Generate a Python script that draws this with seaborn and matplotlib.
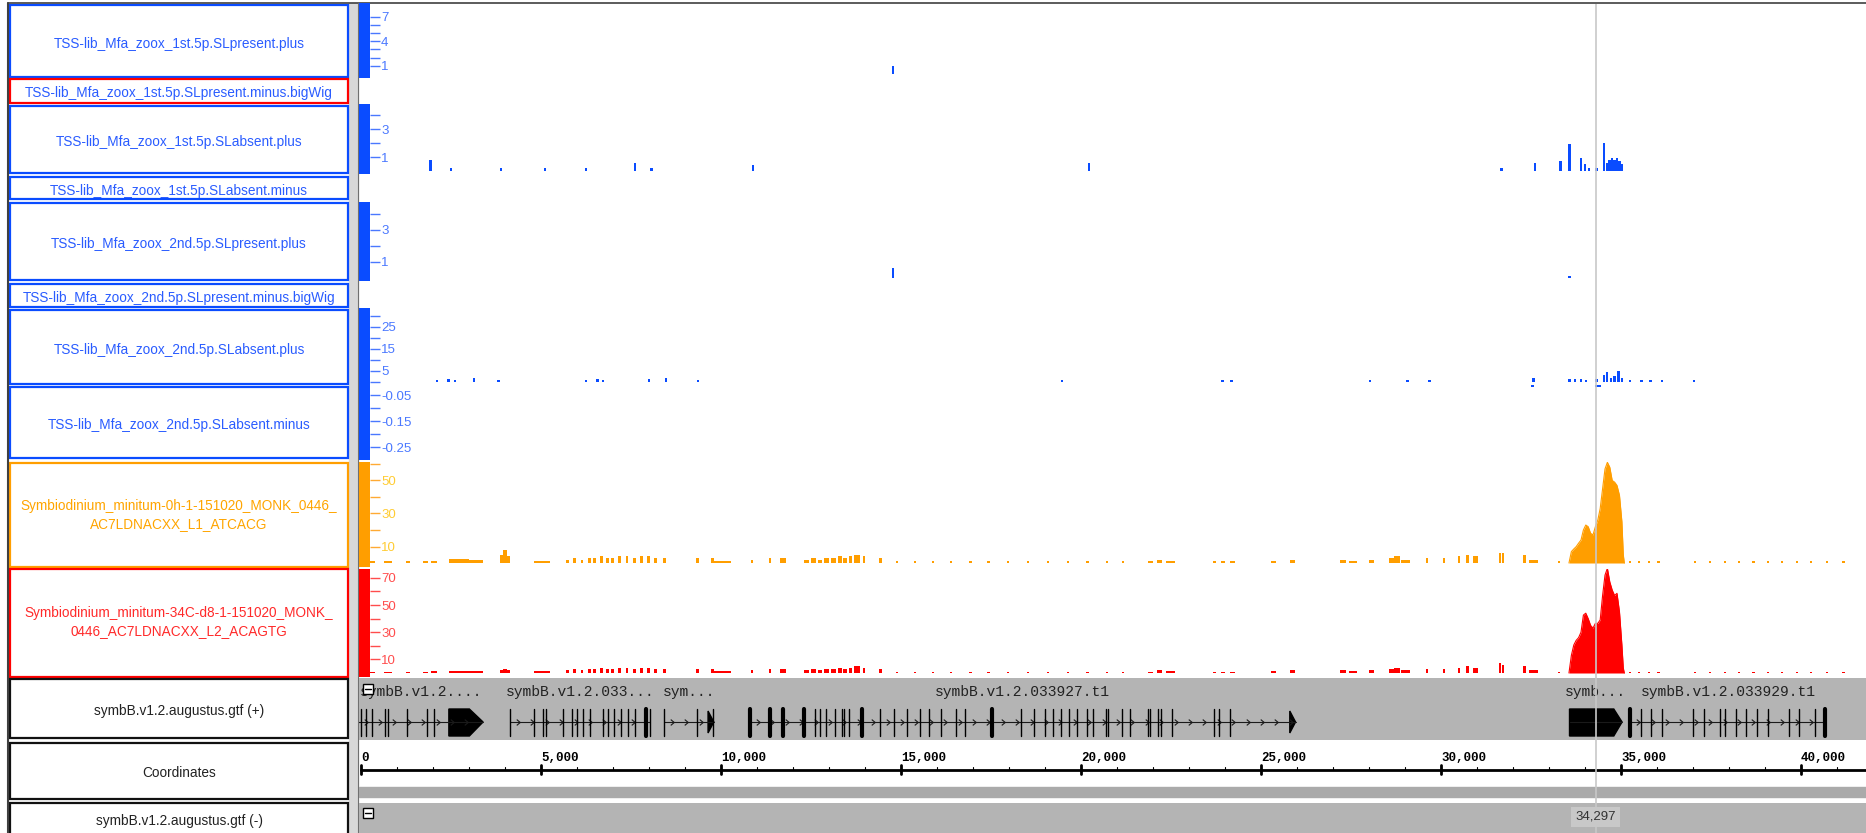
import numpy as np
import matplotlib
matplotlib.use("Agg")
import matplotlib.pyplot as plt
import seaborn as sns
from matplotlib.patches import Rectangle, Polygon
from matplotlib.path import Path

sns.set_style("white")
plt.rcParams['font.family'] = ['Liberation Sans', 'DejaVu Sans']

# ---------------- data ----------------
VIEW = (-56, 41806)          # visible genomic window (bp)
CURSOR = 34297

track_names = [
    "TSS-lib_Mfa_zoox_1st.5p.SLpresent.plus",
    "TSS-lib_Mfa_zoox_1st.5p.SLpresent.minus.bigWig",
    "TSS-lib_Mfa_zoox_1st.5p.SLabsent.plus",
    "TSS-lib_Mfa_zoox_1st.5p.SLabsent.minus",
    "TSS-lib_Mfa_zoox_2nd.5p.SLpresent.plus",
    "TSS-lib_Mfa_zoox_2nd.5p.SLpresent.minus.bigWig",
    "TSS-lib_Mfa_zoox_2nd.5p.SLabsent.plus",
    "TSS-lib_Mfa_zoox_2nd.5p.SLabsent.minus",
    "Symbiodinium_minitum-0h-1-151020_MONK_0446_\nAC7LDNACXX_L1_ATCACG",
    "Symbiodinium_minitum-34C-d8-1-151020_MONK_\n0446_AC7LDNACXX_L2_ACAGTG",
    "symbB.v1.2.augustus.gtf (+)",
    "Coordinates",
    "symbB.v1.2.augustus.gtf (-)",
]

# TSS tracks (position bp, value)
t1_pos = [14780]
t1_val = [1.0]
t3_pos = [1920, 2500, 3890, 5110, 6250, 7610, 8080, 10890, 20220, 31670, 32610, 33330,
          33580, 33890, 34000, 34110, 34330, 34530, 34610, 34680, 34750, 34820, 34890, 34960, 35030]
t3_val = [0.8, 0.2, 0.2, 0.2, 0.2, 0.6, 0.25, 0.45, 0.6, 0.2, 0.55, 0.75,
          1.9, 0.9, 0.5, 0.25, 0.2, 2.0, 0.6, 0.8, 0.9, 0.8, 0.9, 0.7, 0.5]
t5_pos = [14780, 33580]
t5_val = [0.6, 0.15]
t7_pos = [2110, 2440, 2610, 3140, 3830, 6250, 6580, 6720, 8000, 8470, 9360, 19470, 23920, 24190,
          28030, 29060, 29670, 32580, 33560, 33720, 33890, 34030, 34330, 34530, 34610, 34720,
          34830, 34920, 35030, 35250, 35560, 35810, 36140, 37030]
t7_val = [1, 1.5, 1, 2, 1, 1, 1.5, 1, 1.5, 2, 1, 1, 1, 1,
          1, 1, 1, 2, 1.5, 1.5, 1.5, 1, 1.5, 3, 4.5, 2,
          2.5, 5, 2, 1, 1, 1, 1, 1]
t8_pos = [32540, 34330, 34400]
t8_val = [-0.02, -0.02, -0.02]

# RNA-seq coverage: low-level segments
cov_start = [250, 640, 1250, 1720, 1950, 2440, 3000, 3850, 3950, 4050, 4800,
             5700, 5900, 6100, 6300, 6450, 6650, 6800, 6950, 7150, 7350, 7550, 7750, 7950, 8150, 8400,
             9300, 9720, 9800, 10830, 11330, 11650,
             12300, 12500, 12700, 12850, 13050, 13250, 13400, 13550, 13700, 13950, 14400,
             14850, 15350, 15850, 16350, 16900, 17400, 17950, 18500, 19050, 19600, 20150, 20700,
             21140, 21860, 22100, 22350, 23670, 23900, 24150, 25280, 25810, 27200, 27450, 28000,
             28560, 28700, 28900, 29580, 30050, 30470, 30700, 30900, 31610, 31700, 32280, 32450, 33250,
             35220, 35480, 35750, 36000, 37030, 37450, 37850, 38250, 38650, 39050, 39450, 39850,
             40250, 40700, 41150]
cov_end = [390, 860, 1350, 1850, 2110, 3000, 3390, 3950, 4050, 4150, 5250,
           5780, 5980, 6180, 6380, 6530, 6730, 6880, 7030, 7230, 7430, 7630, 7830, 8030, 8230, 8470,
           9380, 9800, 10280, 10900, 11400, 11800,
           12450, 12650, 12800, 13000, 13200, 13350, 13500, 13650, 13850, 14000, 14470,
           14910, 15410, 15910, 16410, 16960, 17460, 18010, 18560, 19110, 19660, 20210, 20760,
           21200, 22000, 22250, 22610, 23750, 24000, 24280, 25420, 25940, 27350, 27670, 28140,
           28700, 28850, 29140, 29650, 30120, 30540, 30770, 31030, 31680, 31760, 32350, 32690, 33310,
           35280, 35540, 35810, 36080, 37090, 37510, 37910, 38310, 38710, 39110, 39510, 39910,
           40310, 40760, 41210]
orange_val = [1, 1, 1, 1, 1.5, 2.5, 2, 5, 8, 4, 1.5,
              2, 3, 2, 3, 3, 4, 3, 3, 4, 4, 3, 4, 4, 3, 3,
              3, 3, 1.5, 2, 3, 3,
              2, 3, 2, 3, 3, 4, 3, 4, 5, 4, 3,
              1, 1, 1, 1, 1, 1, 1, 1, 1, 1, 1, 1,
              1, 1, 2, 1.5, 1, 1, 1, 1, 2, 2, 1.5, 2,
              3, 4, 2, 3, 3, 4, 5, 4, 6, 6, 5, 2, 1,
              1, 1, 1, 1, 1, 1, 1, 1, 1, 1, 1, 1, 1, 1, 1]
red_val = [1, 1, 1, 1, 1.5, 1.5, 1.5, 2, 3, 2, 1.5,
           2, 3, 2, 3, 3, 4, 3, 3, 4, 4, 3, 4, 4, 3, 3,
           3, 3, 1.5, 2, 3, 3,
           2, 3, 2, 3, 3, 4, 3, 4, 5, 4, 3,
           1, 1, 1, 1, 1, 1, 1, 1, 1, 1, 1, 1,
           1, 1, 2, 1.5, 1, 1, 1, 1.5, 2, 2, 1.5, 2,
           3, 4, 2, 3, 3, 4, 5, 4, 7, 6, 5, 2, 1,
           1, 1, 1, 1, 1, 1, 1, 1, 1, 1, 1, 1, 1, 1, 1]

# main coverage peak
peak_pos = [33555, 33622, 33689, 33755, 33822, 33889, 33956, 34022, 34089, 34156, 34222, 34289,
            34356, 34422, 34489, 34556, 34622, 34689, 34756, 34822, 34889, 34958, 35025, 35064, 35092]
orange_peak = [0, 6.9, 8.5, 9.9, 12, 13.9, 20, 23, 22, 18, 17, 22,
               26, 33, 45, 57, 61, 58, 50, 49, 47, 41, 25, 5, 0]
red_peak = [0, 13, 20.6, 24, 26, 30, 42.6, 44, 40, 35, 33, 36.5,
            36.5, 39, 57, 72, 77, 67, 61, 57, 58.6, 45, 20.6, 3.7, 0]

# gene models (+ strand)
gene_labels = ["symbB.v1.2....", "symbB.v1.2.033...", "sym...",
               "symbB.v1.2.033927.t1", "symb...", "symbB.v1.2.033929.t1"]
gene_start = [-500, 4130, 8410, 10800, 33570, 35250]
gene_end = [3390, 8040, 9800, 25960, 35030, 40700]
gene_exons = [
    [0, 140, 300, 670, 750, 1280, 1830, 2030],
    [4130, 4810, 5060, 5150, 5620, 5860, 5990, 6170, 6360, 6730, 6860, 7040, 7230, 7420, 7600, 7910, 8040],
    [8410, 9340, 9770],
    [10800, 11350, 11720, 12310, 12620, 12750, 12930, 13180, 13370, 13430, 13550, 13930, 14420, 14800,
     15170, 15540, 15790, 16100, 16530, 16780, 17520, 18330, 18700, 19010, 19230, 19450, 19670, 19890,
     20180, 20320, 20690, 20760, 21130, 21350, 21860, 21930, 22150, 22230, 22520, 23690, 23840, 24130],
    [],
    [35250, 35550, 35840, 36130, 37010, 37310, 37740, 37900, 38190, 38480, 38780, 39070, 39660, 39950,
     40390, 40680],
]
thick_exons = [7910, 10800, 11350, 11720, 12310, 13930, 17520, 35250, 40680]
block_start = [2440, 33570]
block_flat_end = [3010, 34800]
block_tip = [3390, 35030]

ruler_major = [0, 5000, 10000, 15000, 20000, 25000, 30000, 35000, 40000]
ruler_labels = ["0", "5,000", "10,000", "15,000", "20,000", "25,000", "30,000", "35,000", "40,000"]

# ---------------- figure ----------------
W, H = 1866, 833
fig = plt.figure(figsize=(W / 100, H / 100), dpi=100)


def px_axes(x0, y0, x1, y1, z=1):
    ax = fig.add_axes([x0 / W, 1 - y1 / H, (x1 - x0) / W, (y1 - y0) / H])
    ax.set_zorder(z)
    return ax


BLUE = '#0a4cff'
BLUE_T = '#2a5cff'
BLUE_TICK = '#4a78ff'
ORANGE = '#ff9e00'
ORANGE_T = '#ffa500'
RED = '#ff0000'
RED_T = '#ff2a2a'
GRAY = '#b4b4b4'

# background canvas (left name panel)
bg = px_axes(0, 0, W, H, z=0)
bg.set_xlim(0, W)
bg.set_ylim(H, 0)
bg.axis('off')
bg.add_patch(Rectangle((0, 0), W, H, color='white'))
bg.add_patch(Rectangle((349, 3), 9, H, color='#d8d8d8'))
bg.plot([8, 8], [3, H], color='#404040', lw=1.5)
bg.plot([8, W], [3, 3], color='#404040', lw=1.2)
bg.plot([358, 358], [3, H], color='#707070', lw=0.8)

box_rows = [(5, 77), (79, 103), (106, 173), (177, 199), (203, 280), (284, 307), (310, 384),
            (387, 458), (463, 567), (569, 677), (679, 738), (743, 799), (803, 840)]
box_edge = [BLUE, RED, BLUE, BLUE, BLUE, BLUE, BLUE, BLUE, ORANGE, RED, '#111111', '#111111', '#111111']
box_text = [BLUE_T] * 8 + [ORANGE_T, RED_T, '#222222', '#222222', '#222222']
text_y = [44, 93, 142, 191, 244, 298, 350, 425, 515, 622, 711, 773, 821]
for (t, b), ec, tc, ty, name in zip(box_rows, box_edge, box_text, text_y, track_names):
    bg.add_patch(Rectangle((10, t), 338, b - t, facecolor='white', edgecolor=ec, lw=1.6))
    bg.text(179, ty, name, ha='center', va='center', color=tc, fontsize=9.8,
            linespacing=1.35)


# data tracks
def make_track(y0, y1, ylim, color, ticks, labels, tickc, labc):
    ax = px_axes(359, y0, W, y1, z=2)
    ax.set_xlim(VIEW)
    ax.set_ylim(ylim)
    ax.axis('off')
    bar = px_axes(359, y0, 370, y1, z=3)
    bar.set_facecolor(color)
    bar.set_ylim(ylim)
    bar.set_xticks([])
    for s in bar.spines.values():
        s.set_visible(False)
    bar.yaxis.tick_right()
    bar.set_yticks(ticks)
    bar.set_yticklabels(labels)
    bar.tick_params(axis='y', direction='out', length=7.5, width=1, colors=tickc,
                    labelcolor=labc, labelsize=9.5, pad=0.5, right=True, left=False)
    return ax


ax1 = make_track(3, 78, (-0.49, 8.69), BLUE, [1, 2, 3, 4, 5, 6, 7],
                 ['1', '', '', '4', '', '', '7'], BLUE_TICK, BLUE_TICK)
ax3 = make_track(104, 174, (-0.214, 4.79), BLUE, [1, 2, 3, 4],
                 ['1', '', '3', ''], BLUE_TICK, BLUE_TICK)
ax5 = make_track(202, 281, (-0.19, 4.75), BLUE, [1, 2, 3, 4],
                 ['1', '', '3', ''], BLUE_TICK, BLUE_TICK)
ax7 = make_track(308, 385, (-1.36, 33.6), BLUE, [0, 5, 10, 15, 20, 25, 30],
                 ['', '5', '', '15', '', '25', ''], BLUE_TICK, BLUE_TICK)
ax8 = make_track(385, 460, (-0.3, -0.0115), BLUE, [-0.05, -0.1, -0.15, -0.2, -0.25],
                 ['-0.05', '', '-0.15', '', '-0.25'], BLUE_TICK, BLUE_TICK)
ax9 = make_track(462, 567, (-2.42, 61.2), ORANGE, [10, 20, 30, 40, 50, 60],
                 ['10', '', '30', '', '50', ''], '#ffaa33', '#ffcc33')
ax10 = make_track(569, 677, (-2.94, 76.5), RED, [10, 20, 30, 40, 50, 60, 70],
                  ['10', '', '30', '', '50', '', '70'], '#ff4d4d', '#ff4d4d')

for ax, pos, val in [(ax1, t1_pos, t1_val), (ax3, t3_pos, t3_val), (ax5, t5_pos, t5_val),
                     (ax7, t7_pos, t7_val), (ax8, t8_pos, t8_val)]:
    ax.bar(pos, val, width=78, color=BLUE, linewidth=0)

cs = np.array(cov_start)
ce = np.array(cov_end)
for ax, vals, peak, col in [(ax9, orange_val, orange_peak, ORANGE), (ax10, red_val, red_peak, RED)]:
    ax.bar(cs, vals, width=ce - cs, align='edge', color=col, linewidth=0)
    ax.fill_between(peak_pos, 0, peak, color=col, linewidth=0)
    sns.lineplot(x=peak_pos, y=peak, ax=ax, color=col, lw=0.8, legend=False)
    ax.axis('off')

# gene track
gax = px_axes(359, 678, W, 740, z=2)
gax.set_xlim(VIEW)
gax.set_ylim(740, 678)
gax.set_facecolor(GRAY)
gax.set_xticks([])
gax.set_yticks([])
for s in gax.spines.values():
    s.set_visible(False)
Y0 = 722
chev = Path([(-0.6, 1), (0.6, 0), (-0.6, -1)], [Path.MOVETO, Path.LINETO, Path.LINETO])
for i, lab in enumerate(gene_labels):
    s, e = gene_start[i], gene_end[i]
    gax.plot([s, e], [Y0, Y0], color='#1a1a1a', lw=0.8)
    if gene_exons[i]:
        ch = np.arange(s + 230, e - 120, 400)
        gax.plot(ch, np.full(len(ch), Y0), ls='none', marker=chev, ms=4.2, mfc='none',
                 mec='#1a1a1a', mew=0.8)
    for x in gene_exons[i]:
        gax.plot([x, x], [709, 736], color='black', lw=3 if x in thick_exons else 1.0)
    cx = (max(s, VIEW[0]) + e) / 2
    gax.text(cx, 692, lab, ha='center', va='center', fontsize=10.5, color='#222222',
             family=['Liberation Mono', 'DejaVu Sans Mono'])
for bs, bf, bt in zip(block_start, block_flat_end, block_tip):
    gax.add_patch(Polygon([(bs, 709), (bf, 709), (bt, Y0), (bf, 736), (bs, 736)],
                          closed=True, color='black'))
# end arrowheads of genes 3 and 4
for i in (2, 3):
    e = gene_end[i]
    gax.add_patch(Polygon([(e - 160, 711), (e, Y0), (e - 160, 733)], closed=True, color='black'))

# coordinate ruler
cax = px_axes(359, 740, W, 803, z=2)
cax.set_xlim(VIEW)
cax.set_ylim(803, 740)
cax.axis('off')
cax.plot([0, VIEW[1]], [770, 770], color='black', lw=2)
for x in range(0, 42000, 1000):
    cax.plot([x, x], [766.5, 770], color='black', lw=0.8)
for x, lab in zip(ruler_major, ruler_labels):
    cax.plot([x, x], [765, 774], color='black', lw=2)
    cax.text(x, 764, lab, ha='left', va='bottom', fontsize=9, fontweight='bold',
             family=['Liberation Mono', 'DejaVu Sans Mono'], color='black')
cax.add_patch(Rectangle((VIEW[0], 787), VIEW[1] - VIEW[0], 10, color='#aaaaaa'))

# bottom (-) strand track
bax = px_axes(359, 803, W, 833, z=2)
bax.set_xlim(VIEW)
bax.set_facecolor(GRAY)
bax.set_xticks([])
bax.set_yticks([])
for s in bax.spines.values():
    s.set_visible(False)

# cursor overlay
ov = px_axes(359, 4, W, 833, z=5)
ov.set_xlim(VIEW)
ov.set_ylim(833, 4)
ov.axis('off')
ov.axvline(CURSOR, color='#c8c8c8', lw=1.2)
ov.text(CURSOR, 817, f"{CURSOR:,}", ha='center', va='center', fontsize=9.5, color='#333333',
        bbox=dict(boxstyle='square,pad=0.3', fc='#c8c8c8', ec='none'), zorder=10)

# collapse icons
fg = px_axes(0, 0, W, H, z=6)
fg.set_xlim(0, W)
fg.set_ylim(H, 0)
fg.axis('off')
for yy in (684, 808):
    fg.add_patch(Rectangle((363, yy), 10, 10, facecolor='white', edgecolor='black', lw=1))
    fg.plot([365, 371], [yy + 5, yy + 5], color='black', lw=1)

fig.savefig("out.png", dpi=100)
